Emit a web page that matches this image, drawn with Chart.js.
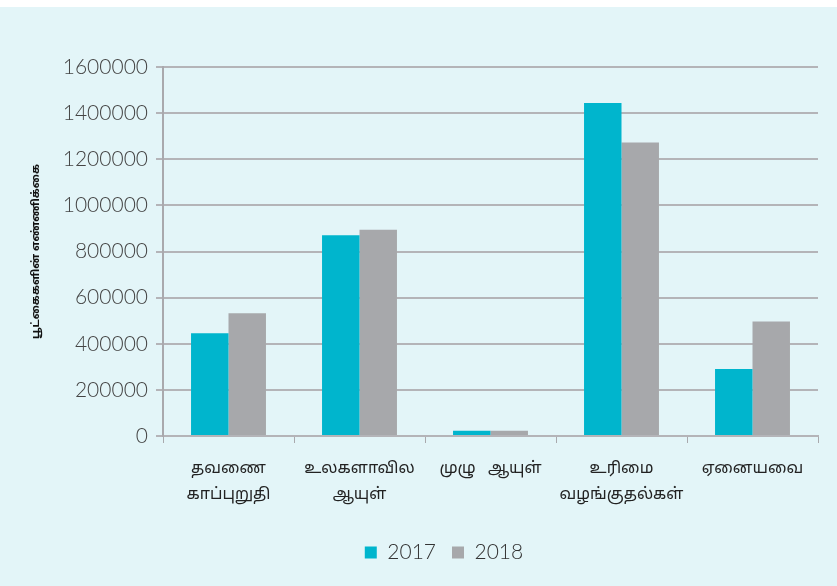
<!DOCTYPE html>
<html>
<head>
<meta charset="utf-8">
<script src="https://cdn.jsdelivr.net/npm/chart.js@4/dist/chart.umd.min.js"></script>
<style>
  html, body { margin: 0; padding: 0; }
  body { width: 837px; height: 586px; background: #e3f5f8; position: relative; overflow: hidden; }
  #topStrip { position: absolute; left: 0; top: 0; width: 837px; height: 7px; background: #ffffff; }
  #wrap { position: absolute; left: 0; top: 0; width: 837px; height: 586px; }
</style>
</head>
<body>
<div id="topStrip"></div>
<div id="wrap"><canvas id="chart" width="837" height="586"></canvas></div>
<script>
const categories = [
  ["தவணை", "காப்புறுதி"],
  ["உலகளாவில", "ஆயுள்"],
  ["முழு   ஆயுள்"],
  ["உரிமை", "வழங்குதல்கள்"],
  ["ஏனையவை"]
];
const values2017 = [446000, 871000, 23000, 1444000, 291000];
const values2018 = [532000, 894000, 23000, 1273000, 496000];
const yTicks = [0, 200000, 400000, 600000, 800000, 1000000, 1200000, 1400000, 1600000];
const yTitle = "பூட்கைகளின் எண்ணிக்கை";

// nudge the legend to the right, like in the original
const legendShift = {
  id: "legendShift",
  afterLayout: function (chart) {
    chart.legend.left += 35;
    chart.legend.right += 35;
  }
};

const ctx = document.getElementById("chart").getContext("2d");
new Chart(ctx, {
  type: "bar",
  data: {
    labels: categories,
    datasets: [
      {
        label: "2017",
        data: values2017,
        backgroundColor: "#00b5cd",
        categoryPercentage: 0.572,
        barPercentage: 1.0
      },
      {
        label: "2018",
        data: values2018,
        backgroundColor: "#a7a8ab",
        categoryPercentage: 0.572,
        barPercentage: 1.0
      }
    ]
  },
  plugins: [legendShift],
  options: {
    responsive: false,
    animation: false,
    devicePixelRatio: 1,
    layout: { padding: { top: 67, right: 19, bottom: 13, left: 0 } },
    plugins: {
      tooltip: { enabled: false },
      legend: {
        position: "bottom",
        labels: {
          boxWidth: 12,
          boxHeight: 12,
          padding: 16,
          color: "#333333",
          font: { family: "Lato, 'Noto Sans', sans-serif", size: 21, weight: 300 }
        }
      }
    },
    scales: {
      x: {
        grid: {
          offset: true,
          drawOnChartArea: false,
          tickLength: 7,
          color: "#a9a9ad"
        },
        border: { color: "#b4b4b8", width: 2 },
        ticks: {
          color: "#222222",
          padding: 14,
          maxRotation: 0,
          autoSkip: false,
          font: { family: "'Noto Sans Tamil', 'Noto Sans', sans-serif", size: 16, lineHeight: 1.6 }
        },
        afterFit: function (scale) { scale.height = 90; }
      },
      y: {
        min: 0,
        max: 1600000,
        afterBuildTicks: function (scale) {
          scale.ticks = yTicks.map(function (v) { return { value: v }; });
        },
        grid: {
          color: "#b4b4b8",
          lineWidth: 2,
          tickLength: 7,
          drawTicks: true
        },
        border: { color: "#a9a9ad", width: 2 },
        ticks: {
          color: "#444444",
          padding: 8,
          font: { family: "Lato, 'Noto Sans', sans-serif", size: 21, weight: 300 },
          callback: function (value) { return String(value); }
        },
        title: {
          display: true,
          text: yTitle,
          color: "#111111",
          padding: { top: 30, bottom: 0 },
          font: { family: "'Noto Sans Tamil', 'Noto Sans', sans-serif", size: 11, weight: "bold" }
        },
        afterFit: function (scale) { scale.width = 163; }
      }
    }
  }
});
</script>
</body>
</html>
